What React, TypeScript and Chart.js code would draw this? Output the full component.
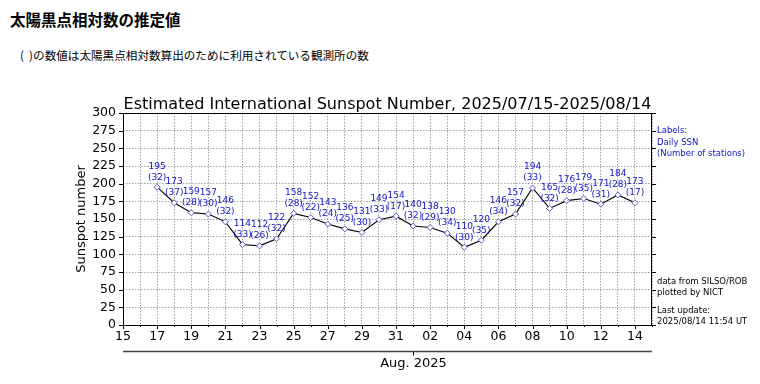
import React, { useEffect, useRef } from 'react';
import { Chart, registerables } from 'chart.js';

Chart.register(...registerables);

// Day offsets from 2025/07/15 (0 = Jul 15, 31 = Aug 15)
const dayOffsets = [2, 3, 4, 5, 6, 7, 8, 9, 10, 11, 12, 13, 14, 15, 16, 17, 18, 19, 20, 21, 22, 23, 24, 25, 26, 27, 28, 29, 30];
const ssnValues = [195, 173, 159, 157, 146, 114, 112, 122, 158, 152, 143, 136, 131, 149, 154, 140, 138, 130, 110, 120, 146, 157, 194, 165, 176, 179, 171, 184, 173];
const stationCounts = [32, 37, 28, 30, 32, 33, 26, 32, 28, 22, 24, 25, 30, 33, 17, 32, 29, 34, 30, 35, 34, 32, 33, 32, 28, 35, 31, 28, 17];

// Major tick labels at even offsets 0..30
const xTickOffsets = [0, 2, 4, 6, 8, 10, 12, 14, 16, 18, 20, 22, 24, 26, 28, 30];
const xTickLabels = ['15', '17', '19', '21', '23', '25', '27', '29', '31', '02', '04', '06', '08', '10', '12', '14'];
const yTickValues = [0, 25, 50, 75, 100, 125, 150, 175, 200, 225, 250, 275, 300];
const monthTickOffset = 17;
const monthLabel = 'Aug. 2025';

const chartTitle = 'Estimated International Sunspot Number, 2025/07/15-2025/08/14';
const yAxisTitle = 'Sunspot number';
const legendLines = ['Labels:', 'Daily SSN', '(Number of stations)'];
const creditLines = ['data from SILSO/ROB', 'plotted by NICT'];
const updateLines = ['Last update:', '2025/08/14 11:54 UT'];

const FONT = '"DejaVu Sans", sans-serif';
const LABEL_BLUE = '#1414c8';

const overlayPlugin = {
  id: 'overlay',
  afterDraw(chart: any) {
    const { ctx, chartArea: a, scales } = chart;
    const x = scales.x;
    const y = scales.y;
    ctx.save();

    // Frame
    ctx.strokeStyle = '#000';
    ctx.lineWidth = 1;
    ctx.setLineDash([]);
    ctx.strokeRect(Math.round(a.left) + 0.5, Math.round(a.top) + 0.5, Math.round(a.width) - 1, Math.round(a.height));

    // X ticks (major even / minor odd)
    ctx.beginPath();
    for (let d = 0; d <= 31; d++) {
      const px = Math.round(x.getPixelForValue(d)) + 0.5;
      const len = d % 2 === 0 ? 4 : 2;
      ctx.moveTo(px, a.bottom);
      ctx.lineTo(px, a.bottom + len);
    }
    // Y ticks on both sides
    yTickValues.forEach((v) => {
      const py = Math.round(y.getPixelForValue(v)) + 0.5;
      ctx.moveTo(a.left - 4, py);
      ctx.lineTo(a.left, py);
      ctx.moveTo(a.right, py);
      ctx.lineTo(a.right + 4, py);
    });
    ctx.stroke();

    // Data labels
    const meta = chart.getDatasetMeta(0);
    ctx.fillStyle = LABEL_BLUE;
    ctx.font = `9px ${FONT}`;
    ctx.textAlign = 'center';
    ctx.textBaseline = 'middle';
    meta.data.forEach((pt: any, i: number) => {
      ctx.fillText(String(ssnValues[i]), pt.x, pt.y - 21);
      ctx.fillText(`(${stationCounts[i]})`, pt.x, pt.y - 10);
    });

    // Title
    ctx.fillStyle = '#000';
    ctx.font = `16px ${FONT}`;
    ctx.textAlign = 'center';
    ctx.textBaseline = 'alphabetic';
    ctx.fillText(chartTitle, (a.left + a.right) / 2, a.top - 4);

    // Y axis title
    ctx.save();
    ctx.translate(a.left - 41, (a.top + a.bottom) / 2);
    ctx.rotate(-Math.PI / 2);
    ctx.font = `13px ${FONT}`;
    ctx.textBaseline = 'middle';
    ctx.fillText(yAxisTitle, 0, 0);
    ctx.restore();

    // Secondary month axis
    const ly = a.bottom + 26.5;
    ctx.strokeStyle = '#444';
    ctx.lineWidth = 1.5;
    ctx.beginPath();
    ctx.moveTo(a.left, ly);
    ctx.lineTo(a.right, ly);
    ctx.stroke();
    const mx = Math.round(x.getPixelForValue(monthTickOffset)) + 0.5;
    ctx.lineWidth = 1;
    ctx.strokeStyle = '#000';
    ctx.beginPath();
    ctx.moveTo(mx, ly);
    ctx.lineTo(mx, ly + 4);
    ctx.stroke();
    ctx.font = `13px ${FONT}`;
    ctx.textAlign = 'center';
    ctx.textBaseline = 'middle';
    ctx.fillText(monthLabel, mx, ly + 12);

    // Right-side notes
    ctx.textAlign = 'left';
    ctx.textBaseline = 'middle';
    ctx.font = `8.5px ${FONT}`;
    const rx = a.right + 5;
    ctx.fillStyle = LABEL_BLUE;
    legendLines.forEach((t, i) => ctx.fillText(t, rx, a.top + 18 + i * 11.5));
    ctx.fillStyle = '#000';
    creditLines.forEach((t, i) => ctx.fillText(t, rx, a.bottom - 43 + i * 11));
    updateLines.forEach((t, i) => ctx.fillText(t, rx, a.bottom - 14 + i * 10.5));

    ctx.restore();
  },
};

export default function App() {
  const canvasRef = useRef<HTMLCanvasElement | null>(null);

  useEffect(() => {
    if (!canvasRef.current) return;
    const points = dayOffsets.map((d, i) => ({ x: d, y: ssnValues[i] }));
    const chart = new Chart(canvasRef.current, {
      type: 'line',
      data: {
        datasets: [
          {
            data: points,
            borderColor: '#000',
            borderWidth: 1.1,
            tension: 0,
            pointStyle: 'rectRot',
            pointRadius: 3,
            pointBorderColor: '#5a5ac0',
            pointBackgroundColor: '#ffffff',
            pointBorderWidth: 1,
          },
        ],
      },
      options: {
        responsive: false,
        animation: false,
        devicePixelRatio: 1,
        layout: { padding: { top: 113, right: 108, bottom: 0, left: 0 } },
        plugins: { legend: { display: false }, tooltip: { enabled: false }, title: { display: false } },
        scales: {
          x: {
            type: 'linear',
            min: 0,
            max: 31,
            afterFit: (s: any) => {
              s.height = 59;
            },
            afterBuildTicks: (s: any) => {
              s.ticks = Array.from({ length: 32 }, (_, d) => ({ value: d }));
            },
            ticks: {
              autoSkip: false,
              maxRotation: 0,
              padding: 4,
              color: '#000',
              font: { family: 'DejaVu Sans', size: 12.5 },
              callback: (v: any) => {
                const idx = xTickOffsets.indexOf(Number(v));
                return idx >= 0 ? xTickLabels[idx] : '';
              },
            },
            grid: { drawTicks: false, color: '#8a8a8a', lineWidth: 0.8 },
            border: { display: false, dash: [1.5, 1.5] },
          },
          y: {
            min: 0,
            max: 300,
            afterFit: (s: any) => {
              s.width = 123;
            },
            afterBuildTicks: (s: any) => {
              s.ticks = yTickValues.map((v) => ({ value: v }));
            },
            ticks: {
              autoSkip: false,
              stepSize: 25,
              padding: 7,
              color: '#000',
              font: { family: 'DejaVu Sans', size: 12.5 },
            },
            grid: { drawTicks: false, color: '#8a8a8a', lineWidth: 0.8 },
            border: { display: false, dash: [1.5, 1.5] },
          },
        },
      },
      plugins: [overlayPlugin],
    });
    return () => chart.destroy();
  }, []);

  return (
    <div style={{ position: 'fixed', left: 0, top: 0, width: 760, height: 384, background: '#fff', overflow: 'hidden' }}>
      <div
        style={{
          position: 'absolute',
          left: 10,
          top: 8,
          fontFamily: '"Noto Sans CJK JP", sans-serif',
          fontWeight: 'bold',
          fontSize: 15.5,
          lineHeight: '22px',
          color: '#000',
          whiteSpace: 'nowrap',
        }}
      >
        太陽黒点相対数の推定値
      </div>
      <div
        style={{
          position: 'absolute',
          left: 20,
          top: 46,
          fontFamily: '"Noto Sans CJK JP", sans-serif',
          fontSize: 11.6,
          lineHeight: '18px',
          color: '#000',
          whiteSpace: 'pre',
        }}
      >
        {'(  )の数値は太陽黒点相対数算出のために利用されている観測所の数'}
      </div>
      <canvas ref={canvasRef} width={760} height={384} style={{ position: 'absolute', left: 0, top: 0 }} />
    </div>
  );
}
